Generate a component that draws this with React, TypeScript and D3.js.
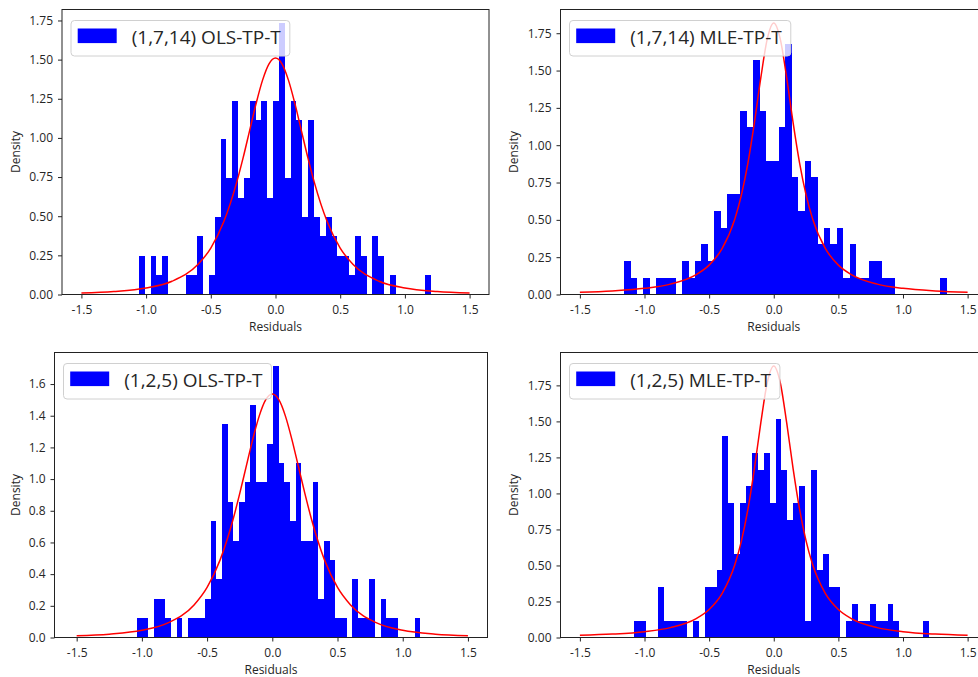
import React, { useEffect, useRef } from 'react';
import * as d3 from 'd3';

// histogram counts, 50 bins per panel
const countsOls714 = [2, 0, 2, 1, 2, 0, 0, 0, 1, 1, 3, 0, 1, 4, 8, 6, 10, 5, 6, 10, 9, 10, 5, 10, 14, 6, 10, 9, 4, 9, 4, 3, 4, 3, 2, 2, 1, 3, 2, 0, 3, 2, 0, 1, 0, 0, 0, 0, 0, 1];
const countsMle714 = [2, 1, 0, 1, 0, 1, 1, 1, 0, 2, 1, 2, 3, 2, 5, 4, 6, 6, 11, 10, 14, 11, 8, 8, 10, 15, 7, 5, 8, 7, 3, 4, 3, 4, 1, 3, 1, 1, 2, 2, 1, 1, 0, 0, 0, 0, 0, 0, 0, 1];
const countsOls125 = [1, 1, 0, 2, 2, 1, 0, 1, 0, 1, 1, 1, 2, 6, 3, 11, 7, 5, 7, 8, 12, 8, 8, 10, 14, 9, 8, 6, 9, 5, 5, 8, 2, 5, 4, 1, 1, 0, 3, 1, 1, 3, 0, 2, 1, 1, 0, 0, 0, 1];
const countsMle125 = [1, 1, 0, 0, 3, 1, 1, 1, 1, 0, 1, 0, 3, 3, 4, 12, 8, 5, 8, 9, 11, 10, 11, 8, 13, 10, 7, 8, 9, 1, 10, 4, 5, 3, 3, 0, 1, 2, 1, 1, 2, 1, 1, 2, 1, 0, 0, 0, 0, 1];

// residual min / max (outer bin edges)
const rangeOls714 = [-1.056, 1.2];
const rangeMle714 = [-1.158, 1.337];
const rangeOls125 = [-1.037, 1.136];
const rangeMle125 = [-1.081, 1.2];

// fitted density curve, sampled
const curveX = [-1.5, -1.25, -1.0, -0.8, -0.6, -0.5, -0.4, -0.3, -0.25, -0.2, -0.15, -0.1, -0.05, 0, 0.05, 0.1, 0.15, 0.2, 0.25, 0.3, 0.4, 0.5, 0.6, 0.8, 1.0, 1.25, 1.5];
const curveOls714 = [0.01, 0.0193, 0.0416, 0.0849, 0.1913, 0.2965, 0.464, 0.716, 0.874, 1.047, 1.219, 1.369, 1.473, 1.51, 1.473, 1.369, 1.219, 1.047, 0.874, 0.716, 0.464, 0.2965, 0.1913, 0.0849, 0.0416, 0.0193, 0.01];
const curveMle714 = [0.0155, 0.0241, 0.0412, 0.0696, 0.1333, 0.1967, 0.3068, 0.5082, 0.6669, 0.8795, 1.149, 1.452, 1.712, 1.818, 1.712, 1.452, 1.149, 0.8795, 0.6669, 0.5082, 0.3068, 0.1967, 0.1333, 0.0696, 0.0412, 0.0241, 0.0155];
const curveOls125 = [0.011, 0.0211, 0.0454, 0.0921, 0.2055, 0.3162, 0.49, 0.748, 0.908, 1.08, 1.251, 1.399, 1.501, 1.537, 1.501, 1.399, 1.251, 1.08, 0.908, 0.748, 0.49, 0.3162, 0.2055, 0.0921, 0.0454, 0.0211, 0.011];
const curveMle125 = [0.0152, 0.0237, 0.0405, 0.0685, 0.1316, 0.1948, 0.3049, 0.5084, 0.6702, 0.8894, 1.171, 1.491, 1.77, 1.884, 1.77, 1.491, 1.171, 0.8894, 0.6702, 0.5084, 0.3049, 0.1948, 0.1316, 0.0685, 0.0405, 0.0237, 0.0152];

const legendLabels = ['(1,7,14) OLS-TP-T', '(1,7,14) MLE-TP-T', '(1,2,5) OLS-TP-T', '(1,2,5) MLE-TP-T'];

const xTicks = [-1.5, -1.0, -0.5, 0, 0.5, 1.0, 1.5];
const xTickLabels = ['-1.5', '-1.0', '-0.5', '0.0', '0.5', '1.0', '1.5'];
const yTicksQuarter = [0, 0.25, 0.5, 0.75, 1.0, 1.25, 1.5, 1.75];
const yTickLabelsQuarter = ['0.00', '0.25', '0.50', '0.75', '1.00', '1.25', '1.50', '1.75'];
const yTicksFifth = [0, 0.2, 0.4, 0.6, 0.8, 1.0, 1.2, 1.4, 1.6];
const yTickLabelsFifth = ['0.0', '0.2', '0.4', '0.6', '0.8', '1.0', '1.2', '1.4', '1.6'];

const WIDTH = 978;
const HEIGHT = 677;
const FONT = '"Open Sans", "DejaVu Sans", sans-serif';

// subplot boxes (the right column is cut off by the image edge)
const layout = [
  { left: 62, right: 489, top: 9.5, bottom: 294.5, xlim: [-1.65, 1.65], labelX: 20 },
  { left: 560.5, right: 987, top: 9.5, bottom: 294.5, xlim: [-1.65, 1.65], labelX: 518 },
  { left: 54.5, right: 487.5, top: 352.5, bottom: 637.5, xlim: [-1.67, 1.65], labelX: 20 },
  { left: 560.5, right: 987, top: 352.5, bottom: 637.5, xlim: [-1.65, 1.65], labelX: 518 },
];

const panels = [
  { counts: countsOls714, range: rangeOls714, curve: curveOls714, label: legendLabels[0], yTicks: yTicksQuarter, yLabels: yTickLabelsQuarter },
  { counts: countsMle714, range: rangeMle714, curve: curveMle714, label: legendLabels[1], yTicks: yTicksQuarter, yLabels: yTickLabelsQuarter },
  { counts: countsOls125, range: rangeOls125, curve: curveOls125, label: legendLabels[2], yTicks: yTicksFifth, yLabels: yTickLabelsFifth },
  { counts: countsMle125, range: rangeMle125, curve: curveMle125, label: legendLabels[3], yTicks: yTicksQuarter, yLabels: yTickLabelsQuarter },
];

const ResidualPanels = () => {
  const ref = useRef<SVGSVGElement>(null);

  useEffect(() => {
    const svg = d3.select(ref.current);
    svg.selectAll('*').remove();

    panels.forEach((p, k) => {
      const box = layout[k];
      const n = d3.sum(p.counts);
      const w = (p.range[1] - p.range[0]) / p.counts.length;
      const bins = p.counts.map((c, i) => ({
        x0: p.range[0] + i * w,
        x1: p.range[0] + (i + 1) * w,
        density: c / (n * w),
      }));
      const pts = curveX.map((x, i) => ({ x, y: p.curve[i] }));

      // matplotlib-style autoscale: 5% headroom
      const top = Math.max(d3.max(bins, d => d.density) || 0, d3.max(pts, d => d.y) || 0) * 1.05;

      const x = d3.scaleLinear().domain(box.xlim).range([box.left, box.right]);
      const y = d3.scaleLinear().domain([0, top]).range([box.bottom, box.top]);

      const g = svg.append('g');

      // Bars
      g.append('g')
        .selectAll('rect')
        .data(bins.filter(d => d.density > 0))
        .enter()
        .append('rect')
        .attr('x', d => x(d.x0))
        .attr('width', d => x(d.x1) - x(d.x0))
        .attr('y', d => y(d.density))
        .attr('height', d => y(0) - y(d.density))
        .attr('fill', 'blue')
        .attr('shape-rendering', 'crispEdges');

      // Fitted curve
      const line = d3.line<{ x: number; y: number }>()
        .x(d => x(d.x))
        .y(d => y(d.y))
        .curve(d3.curveMonotoneX);

      g.append('path')
        .datum(pts)
        .attr('fill', 'none')
        .attr('stroke', 'red')
        .attr('stroke-width', 1.5)
        .attr('d', line);

      // Axes
      const xAxis = g.append('g')
        .attr('transform', `translate(0, ${box.bottom})`)
        .call(d3.axisBottom(x)
          .tickValues(xTicks)
          .tickFormat((d, i) => xTickLabels[i])
          .tickSize(4)
          .tickPadding(7));
      const yAxis = g.append('g')
        .attr('transform', `translate(${box.left}, 0)`)
        .call(d3.axisLeft(y)
          .tickValues(p.yTicks)
          .tickFormat((d, i) => p.yLabels[i])
          .tickSize(4)
          .tickPadding(5));

      [xAxis, yAxis].forEach(a => {
        a.select('.domain').remove();
        a.selectAll('text')
          .attr('font-family', FONT)
          .attr('font-size', 12)
          .attr('fill', '#262626');
        a.selectAll('line').attr('stroke', '#222');
      });

      // Spines
      g.append('rect')
        .attr('x', box.left)
        .attr('y', box.top)
        .attr('width', box.right - box.left)
        .attr('height', box.bottom - box.top)
        .attr('fill', 'none')
        .attr('stroke', '#222')
        .attr('stroke-width', 1);

      // Axis labels
      g.append('text')
        .attr('x', (box.left + box.right) / 2)
        .attr('y', box.bottom + 36.5)
        .attr('text-anchor', 'middle')
        .attr('font-family', FONT)
        .attr('font-size', 12)
        .attr('fill', '#262626')
        .text('Residuals');

      g.append('text')
        .attr('transform', `translate(${box.labelX}, ${(box.top + box.bottom) / 2}) rotate(-90)`)
        .attr('text-anchor', 'middle')
        .attr('font-family', FONT)
        .attr('font-size', 12)
        .attr('fill', '#262626')
        .text('Density');

      // Legend
      const lg = g.append('g')
        .attr('transform', `translate(${box.left + 9}, ${box.top + 11})`);
      const frame = lg.append('rect')
        .attr('rx', 3.5)
        .attr('height', 35.5)
        .attr('fill', 'white')
        .attr('fill-opacity', 0.8)
        .attr('stroke', '#d0d0d0')
        .attr('stroke-width', 1);
      lg.append('rect')
        .attr('x', 6.7)
        .attr('y', 8)
        .attr('width', 39)
        .attr('height', 14.6)
        .attr('fill', 'blue');
      const txt = lg.append('text')
        .attr('x', 60.7)
        .attr('y', 23.5)
        .attr('font-family', FONT)
        .attr('font-size', 19)
        .attr('fill', '#262626')
        .text(p.label);
      const tw = (txt.node() as SVGTextElement).getComputedTextLength();
      frame.attr('width', 60.7 + tw + 9);
    });
  }, []);

  return (
    <svg
      ref={ref}
      width={WIDTH}
      height={HEIGHT}
      style={{ position: 'absolute', left: 0, top: 0, background: 'white', display: 'block' }}
    />
  );
};

export default function App() {
  return <ResidualPanels />;
}
